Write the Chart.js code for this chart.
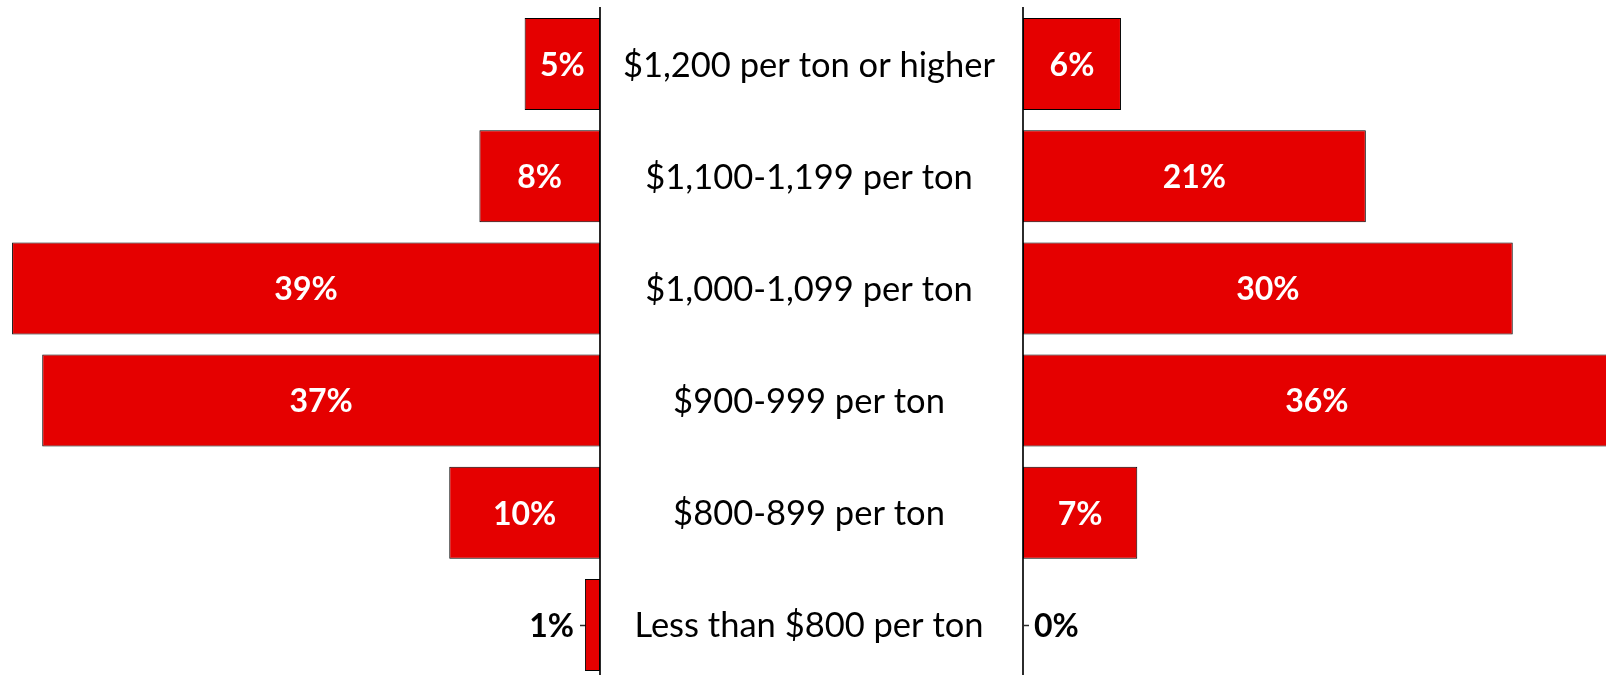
<!DOCTYPE html>
<html>
<head>
<meta charset="utf-8">
<script src="https://cdn.jsdelivr.net/npm/chart.js@4.4.1/dist/chart.umd.min.js"></script>
<style>
  html, body { margin: 0; padding: 0; background: #fff; overflow: hidden; }
  #wrap { position: relative; width: 1606px; height: 675px; overflow: hidden; background: #fff; }
  #leftChart { position: absolute; left: -3px; top: 0; }
  #rightChart { position: absolute; left: 1013px; top: 0; }
</style>
</head>
<body>
<div id="wrap">
  <canvas id="leftChart" width="1026" height="690"></canvas>
  <canvas id="rightChart" width="663" height="690"></canvas>
</div>
<script>
// ---- data ----
const categories = [
  '$1,200 per ton or higher',
  '$1,100-1,199 per ton',
  '$1,000-1,099 per ton',
  '$900-999 per ton',
  '$800-899 per ton',
  'Less than $800 per ton'
];
const leftValues = [5, 8, 39, 37, 10, 1];
const rightValues = [6, 21, 30, 36, 7, 0];
const axisMax = 40;

// ---- style ----
const FONT = 'Lato, "Open Sans", "DejaVu Sans", sans-serif';
const BAR_RED = '#E50000';
const AXIS_COLOR = '#2b2b2b';
const CAT_SIZE = 34.5;
const VAL_SIZE = 32;

const valueLabels = {
  id: 'valueLabels',
  afterDatasetsDraw(chart, args, opts) {
    const ctx = chart.ctx;
    const meta = chart.getDatasetMeta(0);
    const data = chart.data.datasets[0].data;
    ctx.save();
    ctx.font = `bold ${VAL_SIZE}px ${FONT}`;
    ctx.textBaseline = 'alphabetic';
    meta.data.forEach((bar, i) => {
      const txt = data[i] + '%';
      const w = Math.abs(bar.x - bar.base);
      const tw = ctx.measureText(txt).width;
      const yb = bar.y + VAL_SIZE * 0.37;
      if (tw + 10 < w) {
        ctx.fillStyle = '#ffffff';
        ctx.textAlign = 'center';
        ctx.fillText(txt, (bar.x + bar.base) / 2, yb);
      } else {
        const dir = opts.side === 'left' ? -1 : 1;
        ctx.fillStyle = '#000000';
        ctx.textAlign = dir < 0 ? 'right' : 'left';
        ctx.fillText(txt, bar.x + dir * 11, yb);
      }
    });
    ctx.restore();
  }
};

const innerTicks = {
  id: 'innerTicks',
  beforeDatasetsDraw(chart, args, opts) {
    const ctx = chart.ctx;
    const ys = chart.scales.y;
    const dir = opts.side === 'left' ? -1 : 1;
    const x0 = opts.side === 'left' ? chart.chartArea.right : chart.chartArea.left;
    ctx.save();
    ctx.strokeStyle = AXIS_COLOR;
    ctx.lineWidth = 1.5;
    categories.forEach((c, i) => {
      const y = Math.round(ys.getPixelForValue(i)) + 0.5;
      ctx.beginPath();
      ctx.moveTo(x0, y);
      ctx.lineTo(x0 + dir * opts.len, y);
      ctx.stroke();
    });
    ctx.restore();
  }
};

const categoryLabels = {
  id: 'categoryLabels',
  afterDraw(chart, args, opts) {
    const ctx = chart.ctx;
    const ys = chart.scales.y;
    ctx.save();
    ctx.font = `${CAT_SIZE}px ${FONT}`;
    ctx.fillStyle = '#000000';
    ctx.textAlign = 'center';
    ctx.textBaseline = 'alphabetic';
    const x = chart.chartArea.right + opts.offsetX;
    categories.forEach((c, i) => {
      ctx.fillText(c, x, ys.getPixelForValue(i) + CAT_SIZE * 0.36);
    });
    ctx.restore();
  }
};

function barDataset(values) {
  return {
    data: values,
    backgroundColor: BAR_RED,
    borderColor: '#000000',
    borderWidth: 1,
    borderSkipped: false,
    categoryPercentage: 1,
    barPercentage: 0.82
  };
}

new Chart(document.getElementById('leftChart'), {
  type: 'bar',
  data: { labels: categories, datasets: [barDataset(leftValues)] },
  plugins: [innerTicks, valueLabels, categoryLabels],
  options: {
    indexAxis: 'y',
    responsive: false,
    animation: false,
    events: [],
    layout: { padding: { top: 8, bottom: 9, left: 0, right: 0 } },
    plugins: {
      legend: { display: false },
      tooltip: { enabled: false },
      valueLabels: { side: 'left' },
      innerTicks: { side: 'left', len: 20 },
      categoryLabels: { offsetX: 209 }
    },
    scales: {
      x: { type: 'linear', reverse: true, min: 0, max: axisMax, display: false },
      y: {
        type: 'category',
        position: 'right',
        offset: true,
        z: 1,
        grid: { display: false, drawOnChartArea: false, drawTicks: false },
        border: { display: true, color: AXIS_COLOR, width: 2 },
        ticks: { display: false },
        afterFit(scale) { scale.width = 423; }
      }
    }
  }
});

new Chart(document.getElementById('rightChart'), {
  type: 'bar',
  data: { labels: categories, datasets: [barDataset(rightValues)] },
  plugins: [innerTicks, valueLabels],
  options: {
    indexAxis: 'y',
    responsive: false,
    animation: false,
    events: [],
    layout: { padding: { top: 8, bottom: 9, left: 0, right: 0 } },
    plugins: {
      legend: { display: false },
      tooltip: { enabled: false },
      valueLabels: { side: 'right' },
      innerTicks: { side: 'right', len: 6 }
    },
    scales: {
      x: { type: 'linear', min: 0, max: axisMax, display: false },
      y: {
        type: 'category',
        position: 'left',
        offset: true,
        z: 1,
        grid: { display: false, drawOnChartArea: false, drawTicks: false },
        border: { display: true, color: AXIS_COLOR, width: 2 },
        ticks: { display: false },
        afterFit(scale) { scale.width = 10; }
      }
    }
  }
});
</script>
</body>
</html>
